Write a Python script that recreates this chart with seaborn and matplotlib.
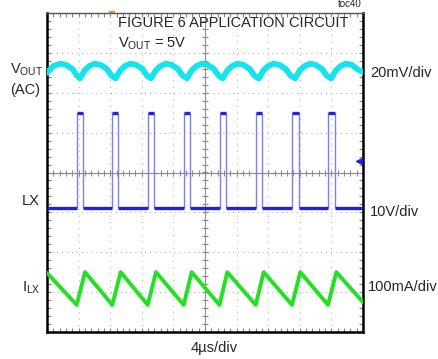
import numpy as np
import matplotlib
matplotlib.use("Agg")
import matplotlib.pyplot as plt
from matplotlib.ticker import MultipleLocator, NullFormatter
import seaborn as sns

# screen units: x in divisions (0..10), y in divisions (-4..4)

# VOUT (AC), 20mV/div
vout_t = [0.00, 0.20, 0.42, 0.60, 0.80, 0.95, 1.04,
          1.19, 1.34, 1.51, 1.69, 1.89, 2.04, 2.17,
          2.32, 2.47, 2.64, 2.82, 3.02, 3.16, 3.29,
          3.44, 3.59, 3.76, 3.94, 4.14, 4.29, 4.43,
          4.58, 4.73, 4.90, 5.08, 5.28, 5.43, 5.56,
          5.71, 5.86, 6.03, 6.21, 6.41, 6.56, 6.70,
          6.85, 7.00, 7.17, 7.35, 7.55, 7.71, 7.85,
          8.00, 8.15, 8.32, 8.50, 8.70, 8.85, 8.99,
          9.14, 9.29, 9.46, 9.64, 9.84, 10.00]
vout_v = [2.50, 2.67, 2.73, 2.70, 2.60, 2.43, 2.36,
          2.56, 2.67, 2.73, 2.70, 2.60, 2.43, 2.36,
          2.56, 2.67, 2.73, 2.70, 2.60, 2.43, 2.36,
          2.56, 2.67, 2.73, 2.70, 2.60, 2.43, 2.36,
          2.56, 2.67, 2.73, 2.70, 2.60, 2.43, 2.36,
          2.56, 2.67, 2.73, 2.70, 2.60, 2.43, 2.36,
          2.56, 2.67, 2.73, 2.70, 2.60, 2.43, 2.36,
          2.56, 2.67, 2.73, 2.70, 2.60, 2.43, 2.36,
          2.56, 2.67, 2.73, 2.70, 2.58, 2.52]

# LX switching node, 10V/div
lx_rise = [0.940, 2.066, 3.187, 4.326, 5.459, 6.604, 7.753, 8.892]
lx_fall = [1.149, 2.256, 3.396, 4.525, 5.674, 6.813, 7.965, 9.104]
lx_high = 1.48
lx_low = -0.90

# inductor current, 100mA/div
il_t = [0.00, 0.940, 1.203, 2.066, 2.332, 3.187, 3.449, 4.326, 4.579,
        5.459, 5.706, 6.604, 6.858, 7.753, 8.016, 8.892, 9.155, 10.00]
il_v = [-2.52, -3.32, -2.50, -3.32, -2.50, -3.32, -2.50, -3.32, -2.50,
        -3.32, -2.50, -3.32, -2.50, -3.32, -2.50, -3.32, -2.50, -3.25]

trigger_pos = 2.06
lx_marker = 0.29

sns.set_theme(style="white")
plt.rcParams["font.family"] = ["Liberation Sans", "DejaVu Sans"]
plt.rcParams["mathtext.fontset"] = "custom"
plt.rcParams["mathtext.rm"] = "Liberation Sans"

W, H = 438, 359
fig = plt.figure(figsize=(W / 100, H / 100), dpi=100)
ax = fig.add_axes([47 / W, 1 - 332 / H, 316 / W, 319 / H])
ax.set_xlim(0, 10)
ax.set_ylim(-4, 4)

# graticule
for gx in range(1, 10):
    if gx != 5:
        ax.axvline(gx, color="#a8a8a8", lw=0.8, ls=(0, (0.8, 5.0)), zorder=1)
for gy in range(-3, 4):
    if gy != 0:
        ax.axhline(gy, color="#a8a8a8", lw=0.8, ls=(0, (0.8, 3.6)), zorder=1)
ax.axhline(0, color="#8c8c8c", lw=0.8, zorder=1)
ax.axvline(5, color="#8c8c8c", lw=0.8, zorder=1)
ax.plot(np.arange(0, 10.01, 0.2), np.zeros(51), ls="none", marker="|",
        ms=5, mew=0.8, color="#8c8c8c", zorder=1)
ax.plot(np.full(41, 5.0), np.arange(-4, 4.01, 0.2), ls="none", marker="_",
        ms=5, mew=0.8, color="#8c8c8c", zorder=1)

ax.xaxis.set_major_locator(MultipleLocator(1))
ax.yaxis.set_major_locator(MultipleLocator(1))
ax.xaxis.set_minor_locator(MultipleLocator(0.2))
ax.yaxis.set_minor_locator(MultipleLocator(0.2))
ax.xaxis.set_major_formatter(NullFormatter())
ax.yaxis.set_major_formatter(NullFormatter())
ax.tick_params(which="both", direction="in", top=True, right=True,
               bottom=True, left=True, length=3, width=0.8, color="#808080")

for side in ["left", "right", "bottom"]:
    ax.spines[side].set_linewidth(1.8)
    ax.spines[side].set_color("black")
ax.spines["top"].set_linewidth(1.0)
ax.spines["top"].set_color("#555555")

# traces
sns.lineplot(x=vout_t, y=vout_v, ax=ax, color="#14e4ee", lw=4.2,
             estimator=None, sort=False, zorder=3)

lo_start = [0.0] + lx_fall
lo_end = lx_rise + [10.0]
ax.hlines([lx_low] * len(lo_start), lo_start, lo_end,
          color="#1f22e0", lw=2.4, zorder=3)
ax.hlines([lx_high] * len(lx_rise), lx_rise, lx_fall,
          color="#1f22e0", lw=2.4, zorder=3)
ax.vlines(lx_rise, lx_low, lx_high, color="#7b7ff2", lw=1.0, zorder=2)
ax.vlines(lx_fall, lx_low, lx_high, color="#7b7ff2", lw=1.0, zorder=2)

sns.lineplot(x=il_t, y=il_v, ax=ax, color="#22e022", lw=2.8,
             estimator=None, sort=False, zorder=3)

ax.plot([9.88], [lx_marker], marker="<", ms=4.5, color="#1f22e0",
        ls="none", zorder=4)
ax.plot([trigger_pos - 0.06, trigger_pos + 0.06], [4.02, 4.02],
        color="#f08020", lw=1.6, clip_on=False, zorder=5)

# text
def px(x, y):
    return x / W, 1 - y / H

fs = 10.5
fig.text(*px(118, 23), "FIGURE 6 APPLICATION CIRCUIT", fontsize=fs,
         va="center", ha="left")
fig.text(*px(118, 44), r"V$_{\rm OUT}$ = 5V", fontsize=fs,
         va="center", ha="left")
fig.text(*px(10, 70), r"V$_{\rm OUT}$", fontsize=fs, va="center", ha="left")
fig.text(*px(25, 90), "(AC)", fontsize=fs, va="center", ha="center")
fig.text(*px(40, 201), "LX", fontsize=fs, va="center", ha="right")
fig.text(*px(22, 288), r"I$_{\rm LX}$", fontsize=fs, va="center", ha="left")
fig.text(*px(370, 73), "20mV/div", fontsize=fs, va="center", ha="left")
fig.text(*px(370, 212), "10V/div", fontsize=fs, va="center", ha="left")
fig.text(*px(368, 287), "100mA/div", fontsize=fs, va="center", ha="left")
fig.text(*px(214, 348), "4µs/div", fontsize=fs, va="center", ha="center")
fig.text(*px(350, 4), "toc40", fontsize=7, va="center", ha="center")

fig.savefig("out.png", dpi=100)
